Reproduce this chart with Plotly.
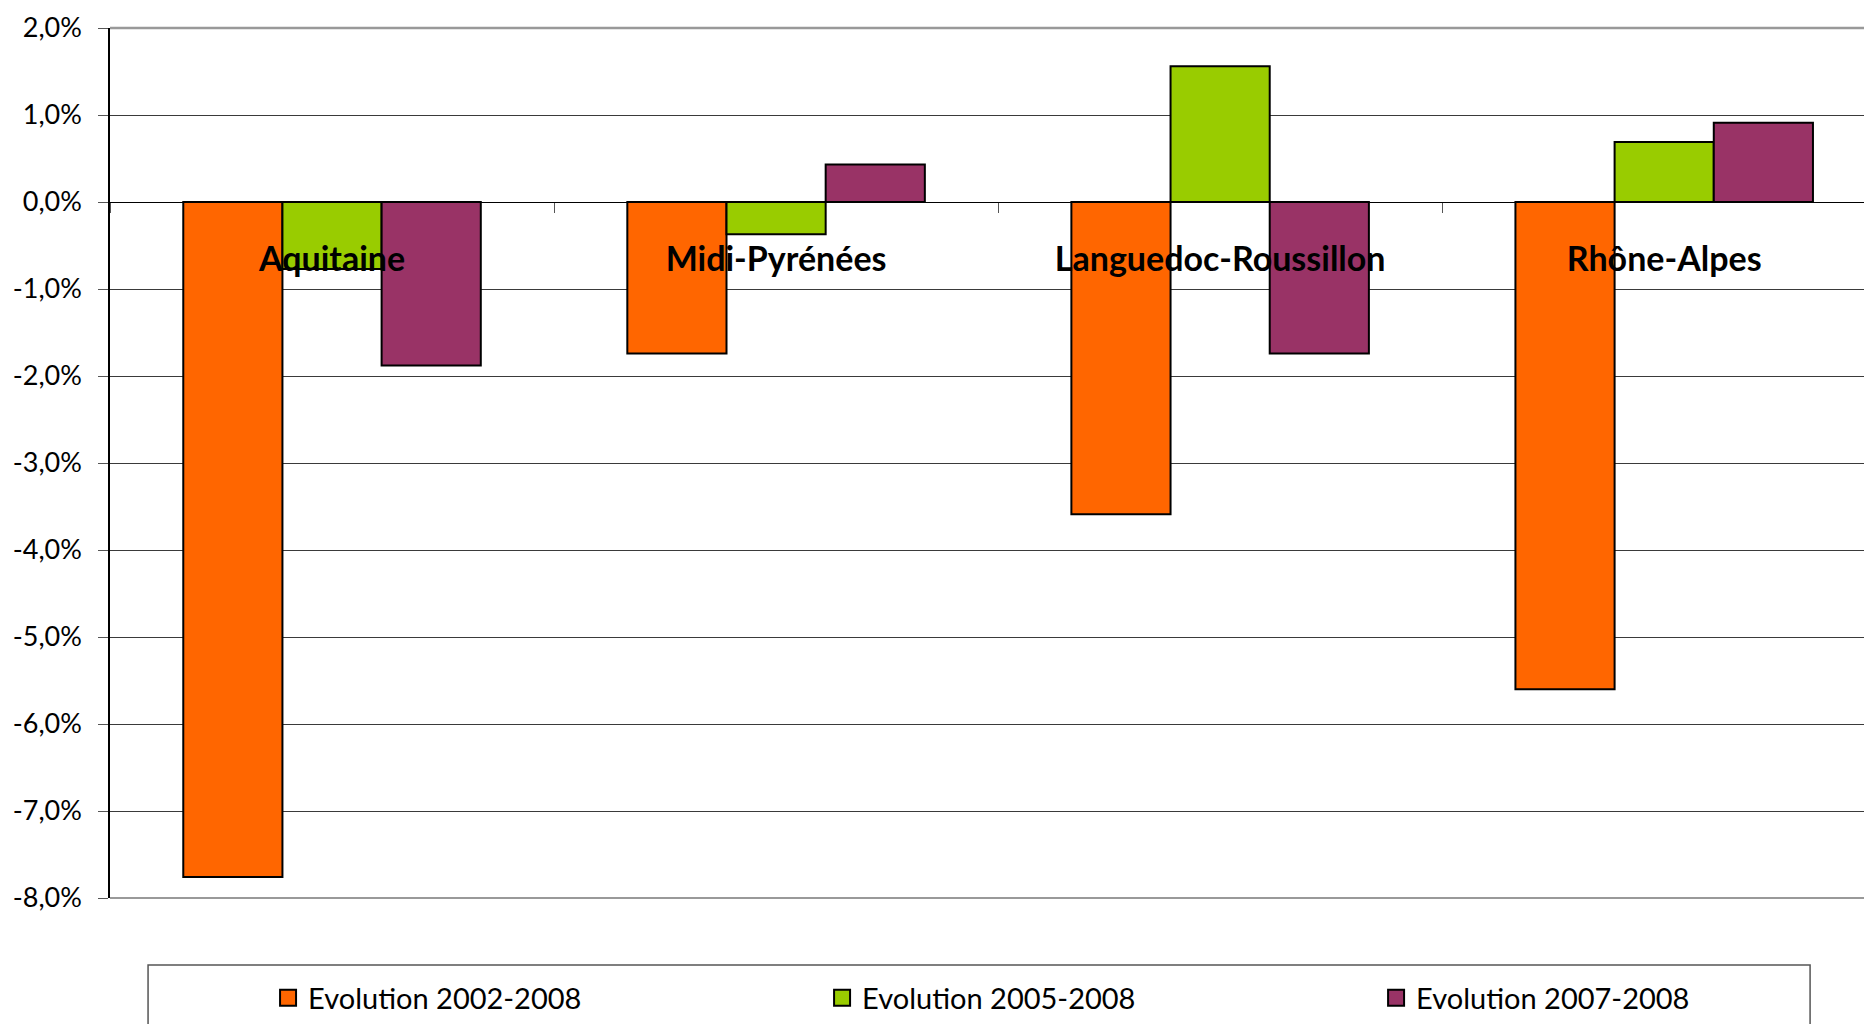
import plotly.graph_objects as go

categories = ["Aquitaine", "Midi-Pyrénées", "Languedoc-Roussillon", "Rhône-Alpes"]
series_names = ["Evolution 2002-2008", "Evolution 2005-2008", "Evolution 2007-2008"]
evol_2002_2008 = [-0.0776, -0.0174, -0.0359, -0.0560]
evol_2005_2008 = [-0.0077, -0.0037, 0.0156, 0.0069]
evol_2007_2008 = [-0.0188, 0.0043, -0.0174, 0.0091]
colors = ["#FF6600", "#99CC00", "#993366"]
y_ticks = [0.02, 0.01, 0.0, -0.01, -0.02, -0.03, -0.04, -0.05, -0.06, -0.07, -0.08]
y_ticktext = [f"{v*100:.1f}%".replace(".", ",") for v in y_ticks]

FONT = "Lato"
legend_names = ["legend", "legend2", "legend3"]
legend_x = [0.0893, 0.4023, 0.7153]

fig = go.Figure()
for name, vals, col, lg in zip(series_names, [evol_2002_2008, evol_2005_2008, evol_2007_2008], colors, legend_names):
    fig.add_trace(go.Bar(x=categories, y=vals, name=name, showlegend=False,
                         marker=dict(color=col, line=dict(color="black", width=2))))
    # legend-only entry with a larger square swatch
    fig.add_trace(go.Scatter(x=[None], y=[None], mode="markers", name=name, legend=lg,
                             marker=dict(symbol="square", size=18, color=col,
                                         line=dict(color="black", width=2))))

legend_common = dict(orientation="h", y=-0.1149, yanchor="middle", xanchor="left",
                     font=dict(size=29, family=FONT), bgcolor="rgba(0,0,0,0)", borderwidth=0)

fig.update_layout(
    width=1872, height=1024,
    margin=dict(l=102, r=0, t=20, b=134, autoexpand=False),
    paper_bgcolor="white", plot_bgcolor="white",
    barmode="group", bargap=0.33, bargroupgap=0,
    font=dict(family=FONT, color="black"),
    showlegend=True,
    legend=dict(x=legend_x[0], **legend_common),
    legend2=dict(x=legend_x[1], **legend_common),
    legend3=dict(x=legend_x[2], **legend_common),
    shapes=[
        dict(type="rect", xref="paper", yref="paper", x0=0.0215, x1=0.9605,
             y0=-0.17, y1=-0.077, line=dict(color="#555555", width=1.5),
             fillcolor="rgba(0,0,0,0)", layer="below"),
        dict(type="line", xref="paper", yref="paper", x0=0, x1=1, y0=1, y1=1,
             line=dict(color="#999999", width=2.5), layer="above"),
        dict(type="line", xref="paper", yref="paper", x0=0, x1=1, y0=0, y1=0,
             line=dict(color="#999999", width=2), layer="above"),
    ],
)
fig.update_xaxes(type="category", range=[-0.5, 3.486], anchor="free", position=0.8,
                 showline=True, linecolor="black", linewidth=1,
                 ticks="outside", tickson="boundaries", ticklen=10, tickcolor="#555555",
                 showgrid=False, ticklabelstandoff=27,
                 tickfont=dict(size=34, family=FONT, weight="bold"))
fig.update_yaxes(range=[-0.08, 0.02], tickvals=y_ticks, ticktext=y_ticktext,
                 showgrid=True, gridcolor="#3a3a3a", gridwidth=1,
                 zeroline=False, showline=True, linecolor="black", linewidth=1.5,
                 ticks="outside", ticklen=10, tickcolor="#555555",
                 tickfont=dict(size=27, family=FONT), ticklabelstandoff=11)
fig.write_html("out.html")
